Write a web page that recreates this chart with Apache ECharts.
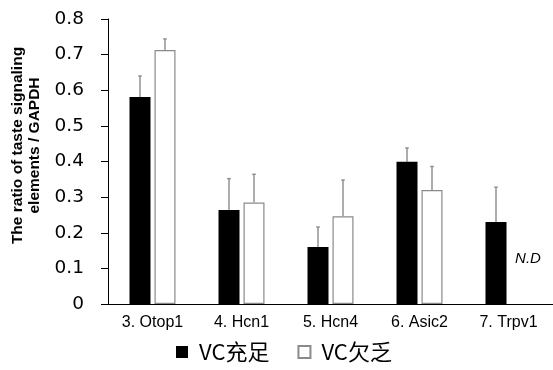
<!DOCTYPE html>
<html>
<head>
<meta charset="utf-8">
<script src="https://cdn.jsdelivr.net/npm/echarts@6/dist/echarts.min.js"></script>
<style>html,body{margin:0;padding:0;background:#fff;}#c{width:553px;height:370px;}</style>
</head>
<body>
<div id="c"></div>
<script>
const categories = ['3. Otop1', '4. Hcn1', '5. Hcn4', '6. Asic2', '7. Trpv1'];
const seriesNames = ['VC充足', 'VC欠乏'];
const sufficient = [0.581, 0.264, 0.160, 0.399, 0.230];
const sufficientErr = [0.059, 0.088, 0.056, 0.039, 0.098];
const deficient = [0.713, 0.285, 0.246, 0.320, null];
const deficientErr = [0.031, 0.079, 0.102, 0.066, null];
const yTicks = { min: 0, max: 0.8, interval: 0.1 };
const ndText = 'N.D';

const chart = echarts.init(document.getElementById('c'), null, { renderer: 'canvas' });
const BAR_W = 21, BAR_GAP = 4;
const half = (BAR_W + BAR_GAP) / 2;

function errSeries(vals, errs, dx) {
  const data = vals.map((v, i) => v == null ? null : [i, v, v + errs[i]]).filter(d => d);
  return {
    type: 'custom',
    silent: true,
    z: 1,
    data: data,
    renderItem: function (params, api) {
      const p0 = api.coord([api.value(0), api.value(1)]);
      const p1 = api.coord([api.value(0), api.value(2)]);
      const x = p0[0] + dx;
      const st = { stroke: '#8a8a8a', lineWidth: 1.4 };
      return {
        type: 'group',
        children: [
          { type: 'line', shape: { x1: x, y1: p0[1], x2: x, y2: p1[1] }, style: st },
          { type: 'line', shape: { x1: x - 1.8, y1: p1[1], x2: x + 1.8, y2: p1[1] }, style: st }
        ]
      };
    }
  };
}

const defData = deficient.map(v => v == null ? {
  value: 0,
  itemStyle: { borderWidth: 0, color: 'rgba(0,0,0,0)' },
  label: { show: true, formatter: ndText, position: 'top', offset: [7, -33],
           fontStyle: 'italic', fontSize: 15, color: '#000', fontFamily: 'Liberation Sans' }
} : v);

chart.setOption({
  animation: false,
  backgroundColor: '#fff',
  grid: { left: 108, right: 0, top: 19, bottom: 66 },
  legend: {
    data: [{ name: seriesNames[0], icon: 'rect' }, { name: seriesNames[1], icon: 'rect' }],
    left: 171, top: 336,
    itemWidth: 12, itemHeight: 12, itemGap: 28,
    textStyle: { fontSize: 22, color: '#000', fontFamily: 'Noto Sans CJK SC', padding: [0, 0, 0, 6] }
  },
  graphic: [{
    type: 'text',
    x: 26.5, y: 145.5,
    rotation: Math.PI / 2,
    style: {
      text: 'The ratio of taste signaling\nelements / GAPDH',
      font: 'bold 15.5px "Liberation Sans", Arial, sans-serif',
      fill: '#000', align: 'center', verticalAlign: 'middle', lineHeight: 17
    }
  }],
  xAxis: {
    type: 'category',
    data: categories,
    axisLine: { lineStyle: { color: '#000', width: 1 } },
    axisTick: { show: false },
    axisLabel: { color: '#000', fontSize: 16, fontFamily: 'Liberation Sans', margin: 11 }
  },
  yAxis: {
    type: 'value',
    min: yTicks.min, max: yTicks.max, interval: yTicks.interval,
    splitLine: { show: false },
    axisLine: { show: true, lineStyle: { color: '#000', width: 1 } },
    axisTick: { show: true, length: 7, lineStyle: { color: '#000' } },
    axisLabel: { color: '#000', fontSize: 18.5, fontFamily: 'DejaVu Sans', margin: 24,
                 formatter: v => v === 0 ? '0' : v.toFixed(1) }
  },
  series: [
    { name: seriesNames[0], type: 'bar', barWidth: BAR_W, barGap: (BAR_GAP / BAR_W * 100) + '%',
      itemStyle: { color: '#000', borderColor: '#000', borderWidth: 0 }, data: sufficient, z: 2 },
    { name: seriesNames[1], type: 'bar', barWidth: BAR_W,
      itemStyle: { color: '#fff', borderColor: '#8a8a8a', borderWidth: 1.2 }, data: defData, z: 2 },
    errSeries(sufficient, sufficientErr, -half),
    errSeries(deficient, deficientErr, half)
  ]
});
</script>
</body>
</html>
